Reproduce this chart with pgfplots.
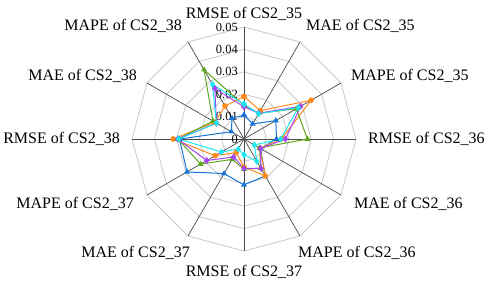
\documentclass[border=0pt]{standalone}
\usepackage{fontspec}
\setmainfont{Liberation Serif}
\usepackage{pgfplots}
\pgfplotsset{compat=1.18}
\usepgfplotslibrary{polar}
\definecolor{cblue}{HTML}{1874D6}
\definecolor{corange}{HTML}{FF8A1C}
\definecolor{cgreen}{HTML}{5FA81E}
\definecolor{cpurple}{HTML}{A646F2}
\definecolor{ccyan}{HTML}{1EE6F0}
\definecolor{ringc}{HTML}{C8C8C8}
\definecolor{spokec}{HTML}{4A4A4A}
\tikzset{
  lbl/.style={font=\fontsize{16}{18}\selectfont, inner sep=0pt},
  tl/.style={font=\fontsize{12.5}{14}\selectfont, inner sep=0pt, anchor=east, xshift=-6pt},
}
\begin{document}
\begin{tikzpicture}
\begin{polaraxis}[
  hide axis,
  ymin=0, ymax=0.05,
  scale only axis, width=224pt, height=224pt,
  clip=false,
  every axis plot/.append style={line width=1pt},
]
% grid rings
\pgfplotsinvokeforeach{0.01,0.02,0.03,0.04,0.05}{
  \draw[ringc, line width=0.8pt] (axis cs:0,#1) -- (axis cs:30,#1) -- (axis cs:60,#1) -- (axis cs:90,#1) -- (axis cs:120,#1) -- (axis cs:150,#1) -- (axis cs:180,#1) -- (axis cs:210,#1) -- (axis cs:240,#1) -- (axis cs:270,#1) -- (axis cs:300,#1) -- (axis cs:330,#1) -- cycle;
}
% spokes
\pgfplotsinvokeforeach{0,30,60,90,120,150,180,210,240,270,300,330}{
  \draw[spokec, line width=0.7pt] (axis cs:0,0) -- (axis cs:#1,0.05);
}
\coordinate (C) at (axis cs:0,0);
% tick labels
\node[tl] at (axis cs:90,0.05) {0.05};
\node[tl] at (axis cs:90,0.04) {0.04};
\node[tl] at (axis cs:90,0.03) {0.03};
\node[tl] at (axis cs:90,0.02) {0.02};
\node[tl] at (axis cs:90,0.01) {0.01};
\node[tl] at (axis cs:90,0) {0};
% category labels
\node[lbl, anchor=south] at ([yshift=6pt]axis cs:90,0.05) {RMSE of CS2\_35};
\node[lbl, anchor=south west] at ([xshift=6pt,yshift=9pt]axis cs:60,0.05) {MAE of CS2\_35};
\node[lbl, anchor=south west] at ([xshift=10pt,yshift=0pt]axis cs:30,0.05) {MAPE of CS2\_35};
\node[lbl, anchor=west] at ([xshift=12pt]axis cs:0,0.05) {RMSE of CS2\_36};
\node[lbl, anchor=north west] at ([xshift=13pt,yshift=-2pt]axis cs:-30,0.05) {MAE of CS2\_36};
\node[lbl, anchor=north west] at ([xshift=-2pt,yshift=-10pt]axis cs:-60,0.05) {MAPE of CS2\_36};
\node[lbl, anchor=north] at ([yshift=-14pt]axis cs:-90,0.05) {RMSE of CS2\_37};
\node[lbl, anchor=north east] at ([xshift=2pt,yshift=-10pt]axis cs:-120,0.05) {MAE of CS2\_37};
\node[lbl, anchor=north east] at ([xshift=-13pt,yshift=-2pt]axis cs:-150,0.05) {MAPE of CS2\_37};
\node[lbl, anchor=east] at ([xshift=-12pt]axis cs:180,0.05) {RMSE of CS2\_38};
\node[lbl, anchor=south east] at ([xshift=-10pt,yshift=0pt]axis cs:150,0.05) {MAE of CS2\_38};
\node[lbl, anchor=south east] at ([xshift=-6pt,yshift=9pt]axis cs:120,0.05) {MAPE of CS2\_38};
% data
\addplot[cblue, mark=triangle*, mark size=2.5pt] coordinates {
 (90,0.0107) (60,0.0078) (30,0.0164) (0,0.0145) (-30,0.0085) (-60,0.0190)
 (-90,0.0205) (-120,0.0178) (-150,0.0294) (-180,0.0288) (-210,0.0065) (-240,0.0107) (-270,0.0107)};
\addplot[corange, mark=*, mark size=2.3pt] coordinates {
 (90,0.0190) (60,0.0146) (30,0.0346) (0,0.0167) (-30,0.0082) (-60,0.0190)
 (-90,0.0125) (-120,0.0070) (-150,0.0149) (-180,0.0316) (-210,0.0150) (-240,0.0170) (-270,0.0190)};
\addplot[cgreen, mark=triangle*, mark size=2.5pt] coordinates {
 (90,0.0150) (60,0.0133) (30,0.0270) (0,0.0283) (-30,0.0080) (-60,0.0150)
 (-90,0.0135) (-120,0.0105) (-150,0.0224) (-180,0.0295) (-210,0.0160) (-240,0.0357) (-270,0.0150)};
\addplot[cpurple, mark=diamond*, mark size=2.7pt] coordinates {
 (90,0.0144) (60,0.0133) (30,0.0292) (0,0.0185) (-30,0.0085) (-60,0.0152)
 (-90,0.0131) (-120,0.0093) (-150,0.0192) (-180,0.0296) (-210,0.0142) (-240,0.0260) (-270,0.0144)};
\addplot[ccyan, mark=diamond*, mark size=2.7pt] coordinates {
 (90,0.0156) (60,0.0130) (30,0.0280) (0,0.0164) (-30,0.0053) (-60,0.0115)
 (-90,0.0070) (-120,0.0052) (-150,0.0116) (-180,0.0292) (-210,0.0142) (-240,0.0282) (-270,0.0156)};
\end{polaraxis}
\pgfresetboundingbox
\path[use as bounding box] ([shift={(-244pt,-142pt)}]C) rectangle ([shift={(240pt,139pt)}]C);
\end{tikzpicture}
\end{document}
